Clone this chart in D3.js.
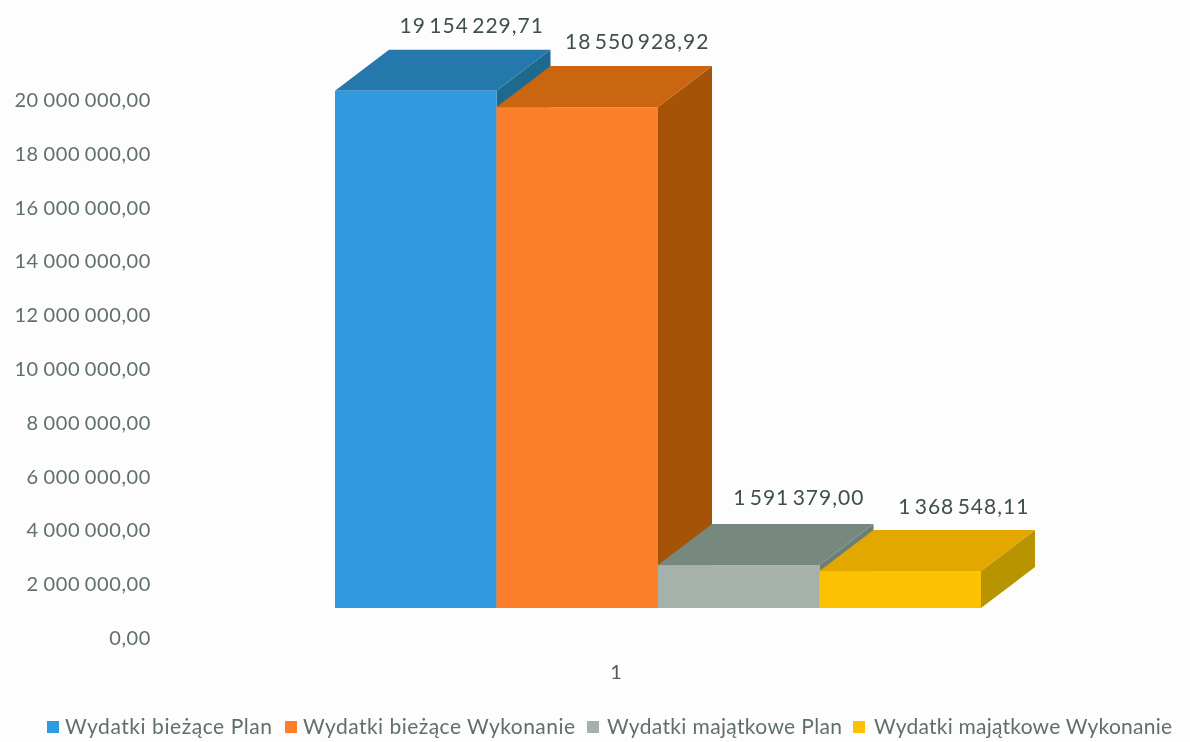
<!DOCTYPE html>
<html><head><meta charset="utf-8">
<script src="https://cdn.jsdelivr.net/npm/d3@7/dist/d3.min.js"></script>
<style>
html,body{margin:0;padding:0;background:#fdfdfd;overflow:hidden}
svg{display:block;filter:blur(0.45px)}
text{font-family:Lato,"Open Sans",sans-serif}
</style></head><body>
<svg id="c" width="1190" height="742"></svg>
<script>
const seriesNames = ["Wydatki bieżące Plan","Wydatki bieżące Wykonanie","Wydatki majątkowe Plan","Wydatki majątkowe Wykonanie"];
const seriesValues = [19154229.71,18550928.92,1591379.00,1368548.11];
const valueLabels = ["19 154 229,71","18 550 928,92","1 591 379,00","1 368 548,11"];
const tickValues = [0,2e6,4e6,6e6,8e6,10e6,12e6,14e6,16e6,18e6,20e6];
const tickLabels = ["0,00","2 000 000,00","4 000 000,00","6 000 000,00","8 000 000,00","10 000 000,00","12 000 000,00","14 000 000,00","16 000 000,00","18 000 000,00","20 000 000,00"];
const categoryLabel = "1";
const frontColors = ["#2f9add","#fd7f2b","#a6b1ac","#fbc102"];
const topColors = ["#2478ab","#cb6610","#77887f","#e2a800"];
const sideColors = ["#1e6a8e","#a55306","#6d7e76","#b89500"];
const svg = d3.select("#c");
const depthX = 54, depthY = 41;
const labelNudge = [2,6,6,9.5];
const labelRise = [24,24,26,23];
const axisY = d3.scaleLinear().domain([0,20e6]).range([638,100]);
const y = d3.scaleLinear().domain([0,20e6]).range([608,68]);
const x = d3.scaleBand().domain(seriesNames).range([335,981]).padding(0);
const axis = d3.axisLeft(axisY).tickValues(tickValues).tickSize(0).tickPadding(0)
  .tickFormat((d,i)=>tickLabels[i]);
const ag = svg.append("g").attr("transform","translate(151,0)").call(axis);
ag.select(".domain").remove();
ag.selectAll("text").attr("font-size",20).attr("fill","#5f6f6c").attr("font-family","Lato")
  .style("letter-spacing","0.6px").style("word-spacing","-1px");
const pts = a=>a.map(p=>p.join(",")).join(" ");
seriesNames.forEach((n,i)=>{
  const l=x(n), r=l+x.bandwidth(), t=y(seriesValues[i]), b=y(0);
  const g=svg.append("g");
  g.append("polygon").attr("points",pts([[r,t],[r+depthX,t-depthY],[r+depthX,b-depthY],[r,b]])).attr("fill",sideColors[i]);
  g.append("polygon").attr("points",pts([[l,t],[l+depthX,t-depthY],[r+depthX,t-depthY],[r,t]])).attr("fill",topColors[i]);
  g.append("rect").attr("x",l).attr("y",t).attr("width",x.bandwidth()).attr("height",b-t).attr("fill",frontColors[i]);
});
svg.selectAll("text.v").data(valueLabels).enter().append("text").attr("class","v")
  .attr("x",(d,i)=>x(seriesNames[i])+x.bandwidth()/2+depthX+labelNudge[i])
  .attr("y",(d,i)=>y(seriesValues[i])-depthY-labelRise[i])
  .attr("dy","0.35em").attr("text-anchor","middle").attr("font-size",21).attr("fill","#3f504c")
  .style("letter-spacing","1px").style("word-spacing","-3px").text(d=>d);
svg.append("text").attr("x",616).attr("y",672).attr("dy","0.35em").attr("text-anchor","middle")
  .attr("font-size",20).attr("fill","#4f5f5c").text(categoryLabel);
const legendSwatchX = [47,285,587,853];
const legendTextX = [65,303,607,874];
const legendTextW = [207,272,235,298];
seriesNames.forEach((n,i)=>{
  svg.append("rect").attr("x",legendSwatchX[i]).attr("y",721).attr("width",12).attr("height",12).attr("fill",frontColors[i]);
  svg.append("text").attr("x",legendTextX[i]).attr("y",727).attr("dy","0.35em").attr("font-size",21)
    .attr("textLength",legendTextW[i]).attr("lengthAdjust","spacing")
    .attr("fill","#5f6f6c").text(n);
});
</script></body></html>
